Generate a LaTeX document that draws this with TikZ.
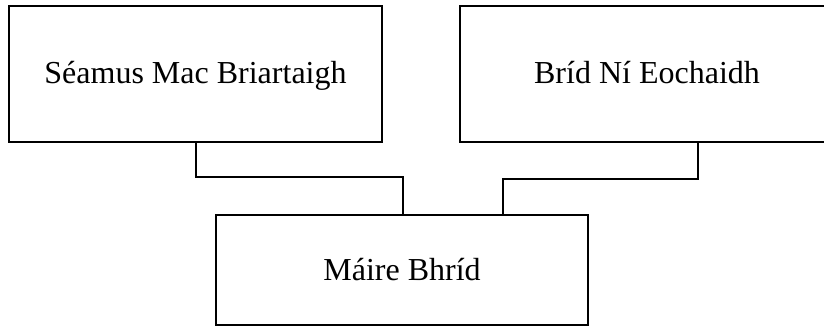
\documentclass[tikz,border=0pt]{standalone}
\usepackage{fontspec}
\setmainfont{Liberation Serif}
\begin{document}
\begin{tikzpicture}[x=1pt, y=-1pt,
  person/.style={draw, line width=2pt, inner sep=0pt, align=center,
                 text height=20pt, text depth=0pt,
                 font=\fontsize{32}{38}\selectfont},
  link/.style={draw, line width=2pt}]
  \clip (0,0) rectangle (824,329);
  % parents
  \node[person, minimum width=373pt, minimum height=136pt] (father) at (195.5,74) {Séamus Mac Briartaigh};
  \node[person, minimum width=374pt, minimum height=136pt] (mother) at (647,74) {Bríd Ní Eochaidh};
  % child
  \node[person, minimum width=372pt, minimum height=110pt] (child) at (402,270) {Máire Bhríd};
  % family lines
  \coordinate (fbend) at ([yshift=-34pt]father.south);
  \coordinate (mtop) at ([xshift=51pt]mother.south);
  \coordinate (mbend) at ([yshift=-36pt]mtop);
  \coordinate (cleft) at ([xshift=1pt]child.north);
  \coordinate (cright) at ([xshift=101pt]child.north);
  \draw[link] (father.south) -- (fbend) -| (cleft);
  \draw[link] (mtop) -- (mbend) -| (cright);
\end{tikzpicture}
\end{document}
